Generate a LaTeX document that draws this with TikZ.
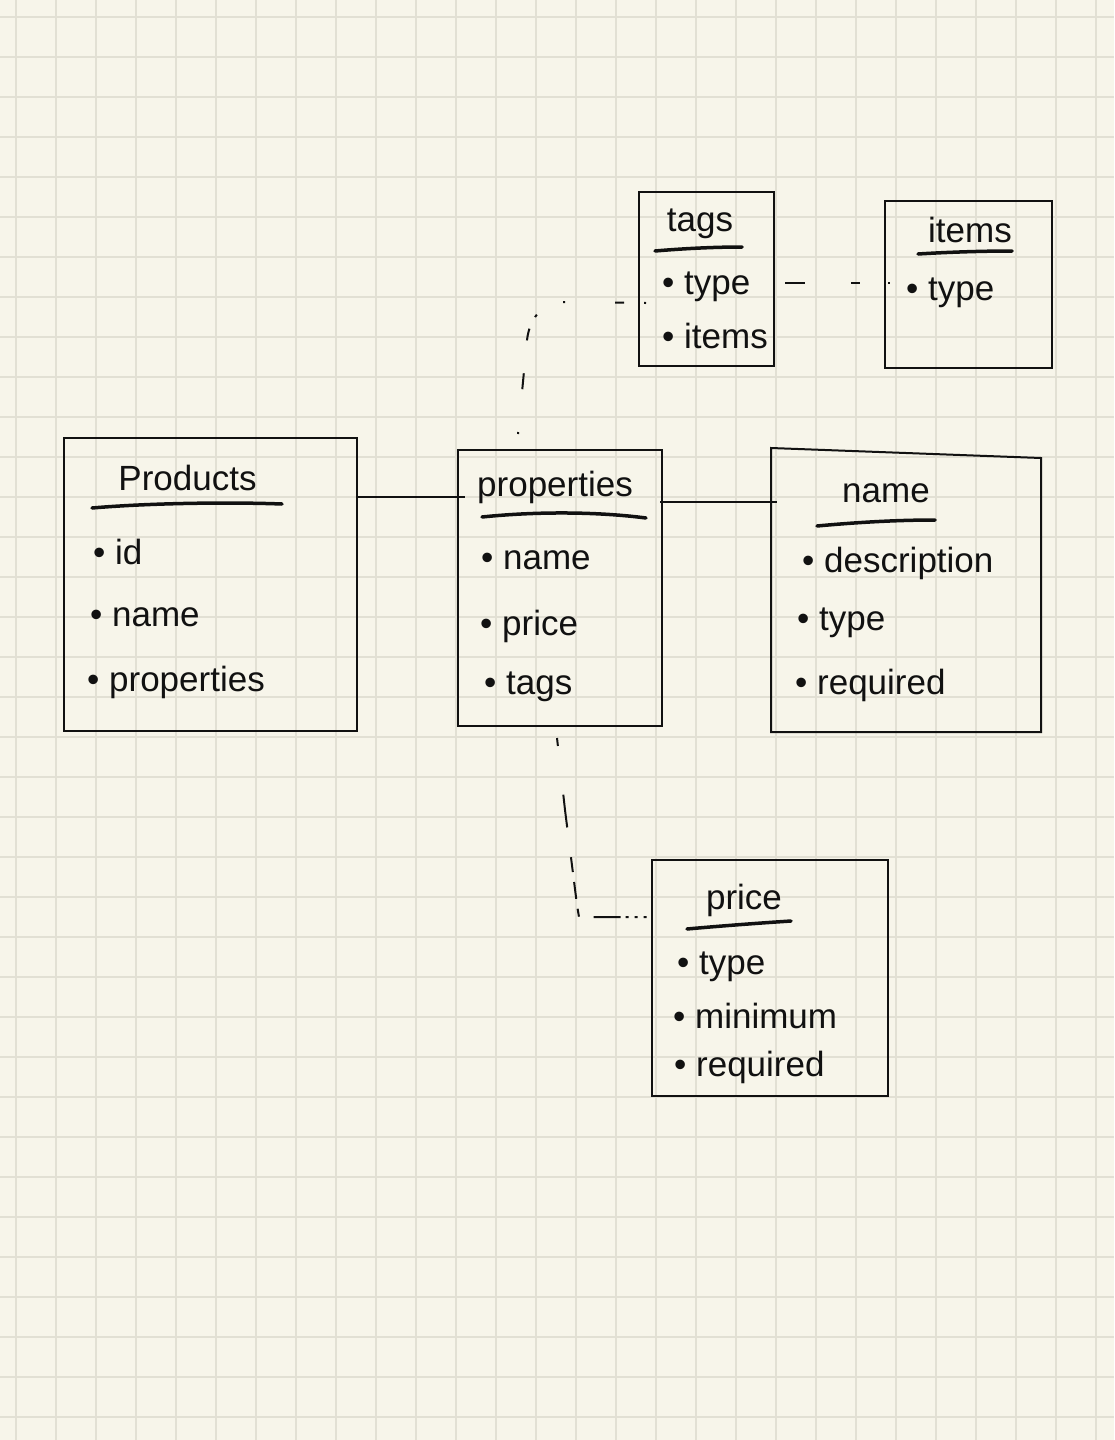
\documentclass[tikz,border=0pt]{standalone}
\usepackage{fontspec}
\setmainfont{Liberation Sans}
\definecolor{paper}{HTML}{F7F5EA}
\definecolor{gridc}{HTML}{E2E0D4}
\definecolor{ink}{HTML}{111111}
\begin{document}
\begin{tikzpicture}[x=1pt,y=-1pt,
  box/.style={draw=ink,line width=2pt,inner sep=0pt,outer sep=0pt,rectangle},
  ghost/.style={draw=none,inner sep=0pt,outer sep=0pt,rectangle},
  ttl/.style={font=\fontsize{35}{40}\selectfont,text=ink,anchor=mid,inner sep=0pt,yshift=-4pt},
  itm/.style={font=\fontsize{35}{40}\selectfont,text=ink,anchor=mid west,inner sep=0pt,yshift=-9pt},
  uline/.style={draw=ink,line width=3.5pt,line cap=round},
  conn/.style={draw=ink,line width=2pt},
  gridl/.style={draw=gridc,line width=1.5pt}]
\useasboundingbox (0,0) rectangle (1114,1440);
\fill[paper] (0,0) rectangle (1114,1440);
\foreach \i in {0,...,27} \draw[gridl] ({16+40*\i},0) -- ({16+40*\i},1440);
\foreach \j in {0,...,35} \draw[gridl] (0,{17+40*\j}) -- (1114,{17+40*\j});

% boxes
\node[box,minimum width=293pt,minimum height=293pt] (prod) at (210.5,584.5) {};
\node[box,minimum width=204pt,minimum height=276pt] (props) at (560,588) {};
\node[ghost,minimum width=270pt,minimum height=284pt] (nameb) at (906,590) {};
\draw[ink,line width=2pt] (nameb.north west) -- ([yshift=-10pt]nameb.north east) -- (nameb.south east) -- (nameb.south west) -- cycle;
\node[box,minimum width=135pt,minimum height=174pt] (tags) at (706.5,279) {};
\node[box,minimum width=167pt,minimum height=167pt] (itemsb) at (968.5,284.5) {};
\node[box,minimum width=236pt,minimum height=236pt] (priceb) at (770,978) {};

% Products
\node[ttl] (prodT) at (187.5,484) {Products};
\draw[uline] (92,508) .. controls (150,503) and (230,502) .. (282,504);
\node[itm] (prodA) at (93,553) {• id};
\node[itm] (prodB) at (90,615) {• name};
\node[itm] (prodC) at (87,680) {• properties};

% properties
\node[ttl] (propsT) at (555,490) {properties};
\draw[uline] (482,517) .. controls (540,511) and (600,512) .. (646,518);
\node[itm] (propsA) at (481,558) {• name};
\node[itm] (propsB) at (480,624) {• price};
\node[itm] (propsC) at (484,683) {• tags};

% name
\node[ttl] (nameT) at (886,496) {name};
\draw[uline] (817,526) .. controls (860,522) and (900,520) .. (935,520);
\node[itm] (nameA) at (802,561) {• description};
\node[itm] (nameB) at (797,619) {• type};
\node[itm] (nameC) at (795,683) {• required};

% tags
\node[ttl] (tagsT) at (700,225) {tags};
\draw[uline] (655,251) .. controls (690,248) and (720,247) .. (742,247);
\node[itm] (tagsA) at (662,283) {• type};
\node[itm] (tagsB) at (662,337) {• items};

% items
\node[ttl] (itemsT) at (970,236) {items};
\draw[uline] (918,254) .. controls (950,252) and (985,251) .. (1012,251);
\node[itm] (itemsA) at (906,289) {• type};

% price
\node[ttl] (priceT) at (744,903) {price};
\draw[uline] (687,929) .. controls (720,926) and (760,923) .. (791,921);
\node[itm] (priceA) at (677,963) {• type};
\node[itm] (priceB) at (673,1017) {• minimum};
\node[itm] (priceC) at (674,1065) {• required};

% connectors
\draw[conn] ([yshift=-59pt]prod.north east) -- ([yshift=-47pt,xshift=7pt]props.north west);
\draw[conn] ([yshift=-52pt,xshift=-2pt]props.north east) -- ([yshift=-54pt,xshift=6pt]nameb.north west);
\draw[conn,dash pattern=on 20pt off 46pt on 9pt off 28pt on 2pt off 20pt]
  ([xshift=11pt,yshift=-91pt]tags.north east) -- ([xshift=5pt,yshift=-82pt]itemsb.north west);
\draw[conn,dash pattern=on 2pt off 43pt on 16pt off 33pt on 12pt off 13pt on 3pt off 30pt on 2pt off 50pt on 9pt off 20pt on 2pt off 30pt]
  ([xshift=-42pt,yshift=16pt]props.north) -- (527,340) .. controls (530,315) and (545,302) .. (565,302)
  -- ([xshift=7pt,yshift=-111pt]tags.north west);
\draw[conn,dash pattern=on 8pt off 49pt on 33pt off 30pt on 15pt off 10pt on 17pt off 10pt on 8pt off 15pt on 27pt off 5pt on 3pt off 6pt on 3pt off 6pt on 3pt off 10pt]
  ([xshift=-3pt,yshift=-12pt]props.south) -- (565,810) -- (577,905) -- (579,917)
  -- ([yshift=-57pt]priceb.north west);
\end{tikzpicture}
\end{document}
